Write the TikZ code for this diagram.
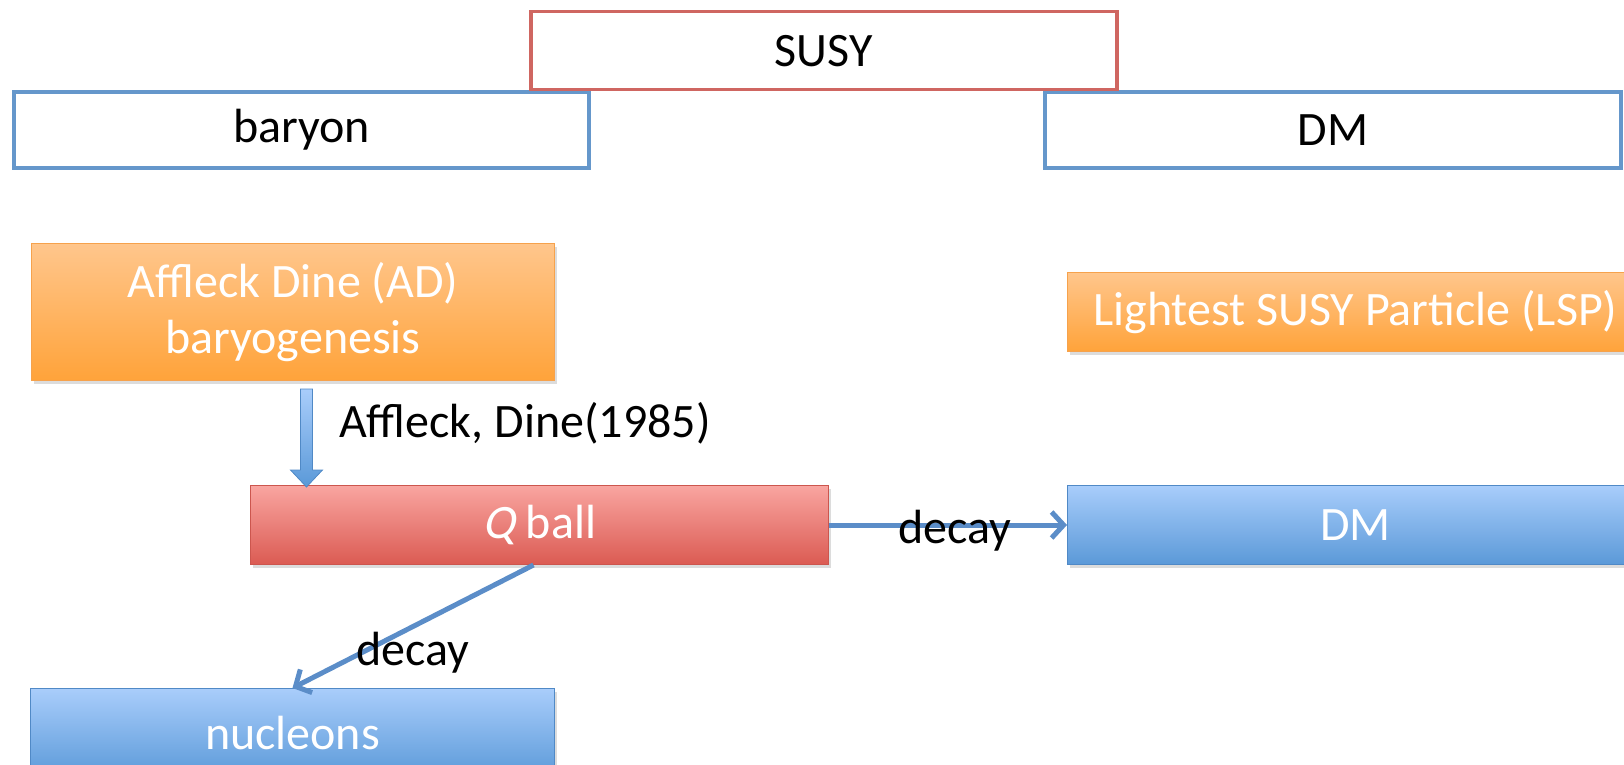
\documentclass[tikz,border=0pt]{standalone}
\usepackage{fontspec}
\setmainfont{Carlito}
\newfontfamily\slantfont{Carlito}[FakeSlant=0.22]
\usetikzlibrary{arrows.meta,shadows,calc}

\definecolor{frameblue}{HTML}{6597CB}
\definecolor{framered}{HTML}{CF6661}
\definecolor{orTop}{HTML}{FFC68C}
\definecolor{orBot}{HTML}{FFA33A}
\definecolor{orEdge}{HTML}{F6A24C}
\definecolor{rdTop}{HTML}{F9A5A1}
\definecolor{rdBot}{HTML}{DB5B52}
\definecolor{rdEdge}{HTML}{CC564E}
\definecolor{blTop}{HTML}{A9CDFB}
\definecolor{blBot}{HTML}{5A99D8}
\definecolor{blEdge}{HTML}{5089C6}
\definecolor{linkblue}{HTML}{5B8DC8}

\newcommand\bigtxt{\fontsize{48}{56}\selectfont}

\begin{document}
\begin{tikzpicture}[x=1pt,y=-1pt,
  headbox/.style={draw=frameblue, line width=4pt, fill=white, anchor=north west,
    inner sep=0pt, minimum height=76pt, font=\bigtxt, text=black},
  filledbox/.style={anchor=north west, inner sep=0pt, line width=1pt,
    font=\bigtxt, text=white, align=center,
    drop shadow={opacity=0.28, shadow xshift=2pt, shadow yshift=-3pt}},
  orangebox/.style={filledbox, draw=orEdge, top color=orTop, bottom color=orBot},
  redbox/.style={filledbox, draw=rdEdge, top color=rdTop, bottom color=rdBot},
  bluebox/.style={filledbox, draw=blEdge, top color=blTop, bottom color=blBot},
  link/.style={draw=linkblue, line width=5pt,
    -{Straight Barb[length=12pt,width=26pt,line width=5pt]}},
  linklabel/.style={font=\bigtxt, text=black, inner sep=0pt, anchor=base}]

\useasboundingbox (0,0) rectangle (1624,765);
\clip (0,0) rectangle (1624,765);

% headline boxes
\node[headbox, minimum width=575pt] (baryon) at (12,90) {baryon};
\node[headbox, minimum width=576pt] (dmtop) at (1043,90) {DM};
\node[headbox, draw=framered, line width=3.5pt, minimum width=586pt, minimum height=78pt]
  (susy) at (529,10) {SUSY};

% process boxes
\node[orangebox, minimum width=523pt, minimum height=137pt] (ad) at (31,243)
  {Affleck Dine (AD)\\baryogenesis};
\node[orangebox, minimum width=576pt, minimum height=79pt] (lsp) at (1067,272)
  {Lightest SUSY Particle (LSP)};
\node[redbox, minimum width=578pt, minimum height=79pt] (qball) at (250,485)
  {{\slantfont Q} ball};
\node[bluebox, minimum width=576pt, minimum height=79pt] (dmbot) at (1067,485) {DM};
\node[bluebox, minimum width=524pt, minimum height=90pt] (nuc) at (30,688) {nucleons};

% block arrow from AD baryogenesis down to the Q ball
\coordinate (bt) at ($(ad.south)+(13.5,8)$);
\coordinate (bh) at (bt |- qball.north);
\shade[top color=blTop, bottom color=blBot, draw=blEdge, line width=0.8pt]
  ($(bt)+(-6,0)$) -- ($(bh)+(-6,-15)$) -- ($(bh)+(-16,-15)$) -- ($(bh)+(0,2)$)
  -- ($(bh)+(16,-15)$) -- ($(bh)+(6,-15)$) -- ($(bt)+(6,0)$) -- cycle;
\node[linklabel, anchor=base west] (ref) at (339,437) {Affleck, Dine(1985)};

% decay channels
\draw[link] (qball.east) -- (dmbot.west);
\node[linklabel] (decayA) at (955,543) {decay};
\draw[link] ($(qball.south)+(-6,0)$) -- (nuc.north);
\node[linklabel] (decayB) at (413,665) {decay};

\end{tikzpicture}
\end{document}
